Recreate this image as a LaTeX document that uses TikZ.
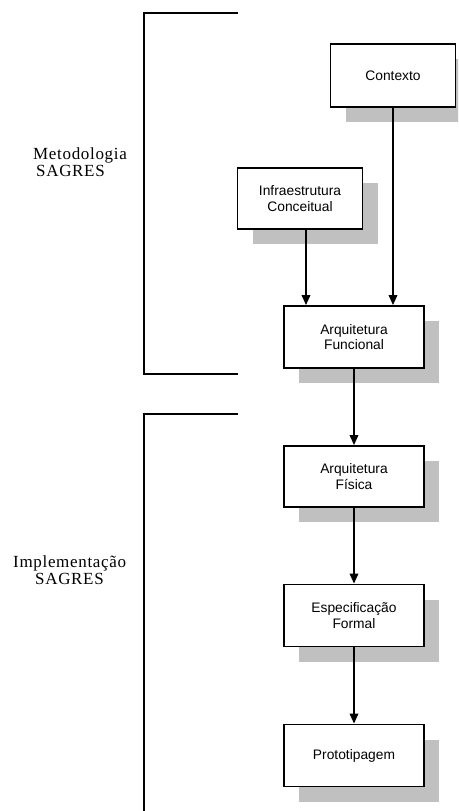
\documentclass[tikz,border=0pt]{standalone}
\usepackage{fontspec}
\setmainfont{Liberation Serif}
\newfontfamily\boxfont{Liberation Sans}
\newfontfamily\labelfont[LetterSpace=4]{Liberation Serif}
\usetikzlibrary{arrows.meta,shadows}
\definecolor{shadowgray}{RGB}{192,192,192}
\tikzset{
  stagebox/.style={draw=black, line width=1.8pt, fill=white, inner sep=0pt,
    align=center, font=\boxfont\fontsize{13.8}{15.5}\selectfont,
    general shadow={fill=shadowgray, shadow xshift=15pt, shadow yshift=-15pt}},
  flow/.style={line width=1.8pt, -{Triangle[length=10pt,width=8.5pt]}},
  bracket/.style={line width=1.8pt},
  phase/.style={anchor=base west, inner sep=0pt, font=\labelfont\fontsize{17}{18}\selectfont}
}
\begin{document}
\begin{tikzpicture}[x=1pt,y=-1pt]
  \useasboundingbox (0,0) rectangle (458,811);
  \clip (0,0) rectangle (458,811);

  % phase brackets
  \coordinate (b1top) at (238,13);
  \coordinate (b1bot) at (238,374);
  \draw[bracket] (b1top) -- (144,13) -- (144,374) -- (b1bot);
  \coordinate (b2top) at (238,414);
  \coordinate (b2end) at (144,820);
  \draw[bracket] (b2top) -- (144,414) -- (b2end);

  % phase labels
  \node[phase] (met1) at (33,159) {Metodologia};
  \node[phase] (met2) at (36,176) {SAGRES};
  \node[phase] (imp1) at (13,567) {Implementação};
  \node[phase] (imp2) at (35,584) {SAGRES};

  % stages
  \node[stagebox, minimum width=125pt, minimum height=63pt] (ctx) at (393,75.5) {Contexto};
  \node[stagebox, minimum width=125pt, minimum height=61pt] (infra) at (300,198.5) {Infraestrutura\\Conceitual};
  \node[stagebox, minimum width=140pt, minimum height=62pt] (func) at (354,337) {Arquitetura\\Funcional};
  \node[stagebox, minimum width=140pt, minimum height=61pt] (fis) at (354,476.5) {Arquitetura\\Física};
  \node[stagebox, minimum width=140pt, minimum height=62pt] (espec) at (354,615.5) {Especificação\\Formal};
  \node[stagebox, minimum width=140pt, minimum height=62pt] (proto) at (354,755.5) {Prototipagem};

  % connectors
  \draw[flow] (ctx.south) -- (ctx.south |- func.north);
  \draw[flow] ([xshift=6pt]infra.south) -- ([xshift=6pt]infra.south |- func.north);
  \draw[flow] (func) -- (fis);
  \draw[flow] (fis) -- (espec);
  \draw[flow] (espec) -- (proto);
\end{tikzpicture}
\end{document}
